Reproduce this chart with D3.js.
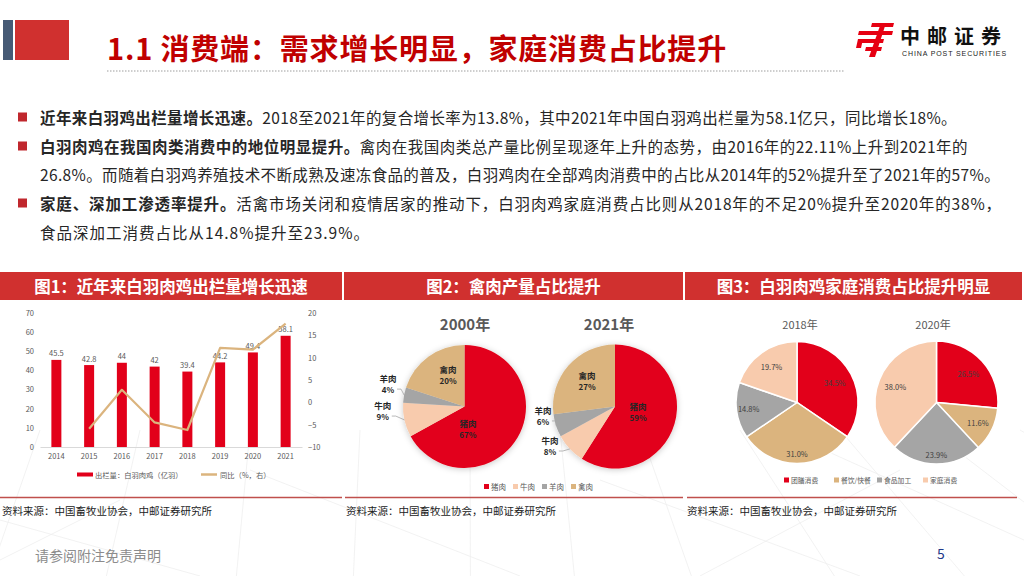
<!DOCTYPE html>
<html><head><meta charset="utf-8">
<script src="https://cdn.jsdelivr.net/npm/d3@7"></script>
<style>body{margin:0;background:#fff}svg{display:block}</style>
</head><body>
<svg id="s" width="1024" height="576"></svg>
<script>
// ---------------- DATA ----------------
const years = ["2014","2015","2016","2017","2018","2019","2020","2021"];
const output = [45.5, 42.8, 44, 42, 39.4, 44.2, 49.4, 58.1];
const yoy = [null, -5.9, 2.8, -4.5, -6.2, 12.2, 11.8, 17.6];
const leftTicks = [0,10,20,30,40,50,60,70];
const rightTicks = [-10,-5,0,5,10,15,20];
const barLegend = "出栏量：白羽肉鸡（亿羽）";
const lineLegend = "同比（%，右）";

const meatCats = ["猪肉","牛肉","羊肉","禽肉"];
const meat2000 = [67, 9, 4, 20];
const meat2021 = [59, 8, 6, 27];
const meatYears = ["2000年","2021年"];

const useCats = ["团膳消费","餐饮/快餐","食品加工","家庭消费"];
const use2018 = [34.5, 31.0, 14.8, 19.7];
const use2020 = [26.5, 11.6, 23.9, 38.0];
const useYears = ["2018年","2020年"];

const panelTitles = ["图1：近年来白羽肉鸡出栏量增长迅速","图2：禽肉产量占比提升","图3：白羽肉鸡家庭消费占比提升明显"];
const sourceText = "资料来源：中国畜牧业协会，中邮证券研究所";
const titleText = "1.1 消费端：需求增长明显，家庭消费占比提升";
const bodyLines = [
  {bullet:true, bold:"近年来白羽鸡出栏量增长迅速。", rest:"2018至2021年的复合增长率为13.8%，其中2021年中国白羽鸡出栏量为58.1亿只，同比增长18%。"},
  {bullet:true, bold:"白羽肉鸡在我国肉类消费中的地位明显提升。", rest:"禽肉在我国肉类总产量比例呈现逐年上升的态势，由2016年的22.11%上升到2021年的"},
  {bullet:false, bold:"", rest:"26.8%。而随着白羽鸡养殖技术不断成熟及速冻食品的普及，白羽鸡肉在全部鸡肉消费中的占比从2014年的52%提升至了2021年的57%。"},
  {bullet:true, bold:"家庭、深加工渗透率提升。", rest:"活禽市场关闭和疫情居家的推动下，白羽肉鸡家庭消费占比则从2018年的不足20%提升至2020年的38%，"},
  {bullet:false, bold:"", rest:"食品深加工消费占比从14.8%提升至23.9%。"}
];

// ---------------- STYLE / LAYOUT ----------------
const FONT = '"Noto Sans CJK SC","Noto Sans",sans-serif';
const RED = "#E2001A";
const TAN = "#DBB47E";
const GRAY = "#A5A5A5";
const PEACH = "#F8CBAD";
const TXT = "#595959";
const meatColors = [RED, PEACH, GRAY, TAN];
const useColors = [RED, TAN, GRAY, PEACH];

const svg = d3.select("#s").style("font-family", FONT);

function fit(sel, target){
  const n = sel.text().length;
  const w = sel.node().getComputedTextLength();
  sel.attr("letter-spacing", ((target - w) / n).toFixed(3));
}

// faint background fan lines
const bg = svg.append("g").attr("stroke","#EFEFEF").attr("stroke-width",0.8);
[[-60,40],[40,110],[140,200],[250,300],[360,390],[470,480],[560,560],[640,650],[740,760],[840,860],[930,980],[1020,1090]].forEach(([a,b])=>{
  bg.append("line").attr("x1",a).attr("y1",430).attr("x2",b+ (b-512)*0.3).attr("y2",576);
});
[[0,520,200,576],[250,470,520,576],[600,480,860,576],[780,430,1024,540],[120,500,0,560],[900,470,700,576]].forEach(([a,b,c,d])=>{
  bg.append("line").attr("x1",a).attr("y1",b).attr("x2",c).attr("y2",d);
});

// ---------------- HEADER ----------------
svg.append("rect").attr("x",3).attr("y",20).attr("width",10).attr("height",40).attr("fill","#465A75");
svg.append("rect").attr("x",15).attr("y",20).attr("width",54).attr("height",40).attr("fill","#D0302F");
const tt = svg.append("text").attr("x",107).attr("y",47).attr("dominant-baseline","central")
  .attr("fill","#C00000").attr("font-size",29).attr("font-weight",700).text(titleText);
fit(tt, 620);
svg.append("line").attr("x1",107).attr("x2",845).attr("y1",71).attr("y2",71)
  .attr("stroke","#BFBFBF").attr("stroke-width",1.5).attr("stroke-dasharray","1.5,1.5");

// logo
const lg = svg.append("g").attr("fill","#E60012");
lg.append("path").attr("d","M872,23 L894,23 L893,27 L871,27 Z");
lg.append("path").attr("d","M859,31 L893,31 L892,35 L858,35 Z");
lg.append("path").attr("d","M862,39 L884,39 L883,43 L861,43 Z");
lg.append("path").attr("d","M866,47 L882,47 L881,51 L865,51 Z");
lg.append("path").attr("d","M881,23 L886,23 L875,57 L869,57 Z");
lg.append("path").attr("d","M858,39 L863,39 L861,48 L856,48 Z");
const lt = svg.append("text").attr("x",900).attr("y",35).attr("dominant-baseline","central")
  .attr("font-size",20).attr("font-weight",700).attr("fill","#111").text("中邮证券");
fit(lt, 108);
const ls = svg.append("text").attr("x",902).attr("y",53.5).attr("dominant-baseline","central")
  .attr("font-size",7).attr("fill","#222").attr("font-family",'"Liberation Sans",Arial,sans-serif').text("CHINA POST SECURITIES");
fit(ls, 105);

// ---------------- BODY TEXT ----------------
const lineY = [117, 146, 174, 203, 232];
const lineEnd = [957, 968, 1000, 1002, 370];
bodyLines.forEach((l,i)=>{
  if(l.bullet) svg.append("rect").attr("x",18).attr("y",lineY[i]-4.5).attr("width",9).attr("height",9).attr("fill","#C0272D");
  const t = svg.append("text").attr("x",40).attr("y",lineY[i]).attr("dominant-baseline","central")
    .attr("font-size",15.5).attr("fill","#262626");
  if(l.bold) t.append("tspan").attr("font-weight",700).text(l.bold);
  t.append("tspan").text(l.rest);
  fit(t, lineEnd[i]-40);
});

// ---------------- PANELS ----------------
const panels = [[0,342],[344,683],[685,1022]];
panels.forEach(([a,b],i)=>{
  svg.append("rect").attr("x",a).attr("y",272).attr("width",b-a).attr("height",28).attr("fill","#D0302F");
  svg.append("text").attr("x",(a+b)/2).attr("y",286).attr("text-anchor","middle").attr("dominant-baseline","central")
    .attr("fill","#fff").attr("font-size",16.5).attr("font-weight",700).text(panelTitles[i]);
});
[[0,342],[345,683],[687,1017]].forEach(([a,b],i)=>{
  svg.append("line").attr("x1",a).attr("x2",b).attr("y1",497.5).attr("y2",497.5).attr("stroke","#C0504D").attr("stroke-width",1.5);
  svg.append("text").attr("x",panels[i][0]+2).attr("y",510).attr("dominant-baseline","central")
    .attr("font-size",10.5).attr("fill","#222").text(sourceText);
});

// footer
svg.append("text").attr("x",35).attr("y",555).attr("dominant-baseline","central").attr("font-size",14).attr("fill","#8C8C8C").text("请参阅附注免责声明");
svg.append("text").attr("x",937).attr("y",553).attr("dominant-baseline","central").attr("font-size",14).attr("fill","#1F3A8A").text("5");

// ---------------- CHART 1 ----------------
const c1 = svg.append("g");
const x = d3.scaleBand().domain(years).range([40,302]).paddingInner(0.695).paddingOuter(0.3475);
const yL = d3.scaleLinear().domain([0,70]).range([447,313]);
const yR = d3.scaleLinear().domain([-10,20]).range([447,313]);

const axL = c1.append("g").attr("transform","translate(37,0)").call(d3.axisLeft(yL).tickValues(leftTicks).tickSize(0).tickPadding(3));
const axR = c1.append("g").attr("transform","translate(305,0)").call(d3.axisRight(yR).tickValues(rightTicks).tickSize(0).tickPadding(3));
[axL,axR].forEach(a=>{a.select(".domain").remove(); a.selectAll("text").attr("font-size",7.5).attr("fill",TXT).attr("font-family",FONT);});
const axB = c1.append("g").attr("transform","translate(0,447)").call(d3.axisBottom(x).tickSize(0).tickPadding(7));
axB.select(".domain").attr("stroke","#D9D9D9").attr("stroke-width",1.2);
axB.selectAll("text").attr("font-size",7.5).attr("fill",TXT).attr("font-family",FONT);

c1.selectAll(".bar").data(output).join("rect")
  .attr("x",(d,i)=>x(years[i])).attr("width",x.bandwidth())
  .attr("y",d=>yL(d)).attr("height",d=>yL(0)-yL(d)).attr("fill",RED);
c1.selectAll(".bl").data(output).join("text")
  .attr("x",(d,i)=>x(years[i])+x.bandwidth()/2).attr("y",d=>yL(d)-7)
  .attr("text-anchor","middle").attr("dominant-baseline","central")
  .attr("font-size",7.5).attr("fill",TXT).text(d=>d);
const line = d3.line().defined(d=>d!=null).x((d,i)=>x(years[i])+x.bandwidth()/2).y(d=>yR(d));
c1.append("path").attr("d",line(yoy)).attr("fill","none").attr("stroke",TAN).attr("stroke-width",2.2).attr("stroke-linejoin","round");

c1.append("rect").attr("x",77).attr("y",472.5).attr("width",16).attr("height",4).attr("fill",RED);
c1.append("text").attr("x",95).attr("y",474.5).attr("dominant-baseline","central").attr("font-size",7.3).attr("fill",TXT).text(barLegend);
c1.append("line").attr("x1",201).attr("x2",217).attr("y1",474.5).attr("y2",474.5).attr("stroke",TAN).attr("stroke-width",2.5);
c1.append("text").attr("x",220).attr("y",474.5).attr("dominant-baseline","central").attr("font-size",7.3).attr("fill",TXT).text(lineLegend);

// shadow filter
const defs = svg.append("defs");
defs.append("filter").attr("id","sh").attr("x","-30%").attr("y","-30%").attr("width","160%").attr("height","160%")
  .append("feDropShadow").attr("dx",0).attr("dy",1).attr("stdDeviation",3).attr("flood-color","#000").attr("flood-opacity",0.22);

const pie = d3.pie().sort(null).value(d=>d);
const rad = a => a*Math.PI/180;

// ---------------- CHART 2 ----------------
const meatPies = [
  {vals:meat2000, cx:464.5, cy:406.5, r:61.5, tx:465, lbl:[[0.35,171],[1.33,267.5],[1.30,287],[0.59,333]]},
  {vals:meat2021, cx:615, cy:406.5, r:62, tx:609, lbl:[[0.38,101],[1.22,239.4],[1.17,263.3],[0.62,313.4]]}
];
meatPies.forEach((p,pi)=>{
  const g = svg.append("g");
  g.append("text").attr("x",p.tx).attr("y",323).attr("text-anchor","middle").attr("dominant-baseline","central")
    .attr("font-size",15).attr("font-weight",700).attr("fill",TXT).text(meatYears[pi]);
  const arcs = pie(p.vals);
  const arc = d3.arc().innerRadius(0).outerRadius(p.r);
  const pg = g.append("g").attr("transform",`translate(${p.cx},${p.cy})`);
  pg.append("g").attr("filter","url(#sh)").selectAll("path").data(arcs).join("path")
    .attr("d",arc).attr("fill",(d,i)=>meatColors[i]);
  arcs.forEach((a,i)=>{
    const [f,ang] = p.lbl[i];
    const lx = f*p.r*Math.sin(rad(ang)), ly = -f*p.r*Math.cos(rad(ang));
    if(f>1){
      const mid = (a.startAngle+a.endAngle)/2;
      pg.append("polyline").attr("points",`${lx+9},${ly+6} ${lx+13},${ly+6} ${p.r*Math.sin(mid)},${-p.r*Math.cos(mid)}`)
        .attr("fill","none").attr("stroke","#A6A6A6").attr("stroke-width",0.8);
    }
    pg.append("text").attr("x",lx).attr("y",ly-5).attr("text-anchor","middle").attr("dominant-baseline","central")
      .attr("font-size",8.5).attr("font-weight",700).attr("fill","#262626").text(meatCats[i]);
    pg.append("text").attr("x",lx).attr("y",ly+6.5).attr("text-anchor","middle").attr("dominant-baseline","central")
      .attr("font-size",8).attr("font-weight",700).attr("fill","#262626").text(p.vals[i]+"%");
  });
});
const leg2x = [484,513,542,571];
meatCats.forEach((c,i)=>{
  svg.append("rect").attr("x",leg2x[i]).attr("y",484).attr("width",5).attr("height",5).attr("fill",meatColors[i]);
  svg.append("text").attr("x",leg2x[i]+7).attr("y",486.5).attr("dominant-baseline","central").attr("font-size",7.5).attr("fill",TXT).text(c);
});

// ---------------- CHART 3 ----------------
const usePies = [
  {vals:use2018, cx:797, cy:402.5, r:61, tx:800, lf:[0.7,0.83,0.8,0.72]},
  {vals:use2020, cx:936.5, cy:402.5, r:61.5, tx:933, lf:[0.7,0.75,0.85,0.72]}
];
usePies.forEach((p,pi)=>{
  const g = svg.append("g");
  g.append("text").attr("x",p.tx).attr("y",324).attr("text-anchor","middle").attr("dominant-baseline","central")
    .attr("font-size",11).attr("fill",TXT).text(useYears[pi]);
  const arcs = pie(p.vals);
  const arc = d3.arc().innerRadius(0).outerRadius(p.r);
  const pg = g.append("g").attr("transform",`translate(${p.cx},${p.cy})`);
  pg.selectAll("path").data(arcs).join("path").attr("d",arc).attr("fill",(d,i)=>useColors[i])
    .attr("stroke","#fff").attr("stroke-width",1.5);
  arcs.forEach((a,i)=>{
    const la = d3.arc().innerRadius(p.r*p.lf[i]).outerRadius(p.r*p.lf[i]);
    const [lx,ly] = la.centroid(a);
    pg.append("text").attr("x",lx).attr("y",ly).attr("text-anchor","middle").attr("dominant-baseline","central")
      .attr("font-size",7.5).attr("fill","#404040").text(p.vals[i].toFixed(1)+"%");
  });
});
const leg3x = [784,834,877,923];
useCats.forEach((c,i)=>{
  svg.append("rect").attr("x",leg3x[i]).attr("y",477.5).attr("width",5).attr("height",5).attr("fill",useColors[i]);
  svg.append("text").attr("x",leg3x[i]+7).attr("y",480).attr("dominant-baseline","central").attr("font-size",6.8).attr("fill",TXT).text(c);
});
</script>
</body></html>
